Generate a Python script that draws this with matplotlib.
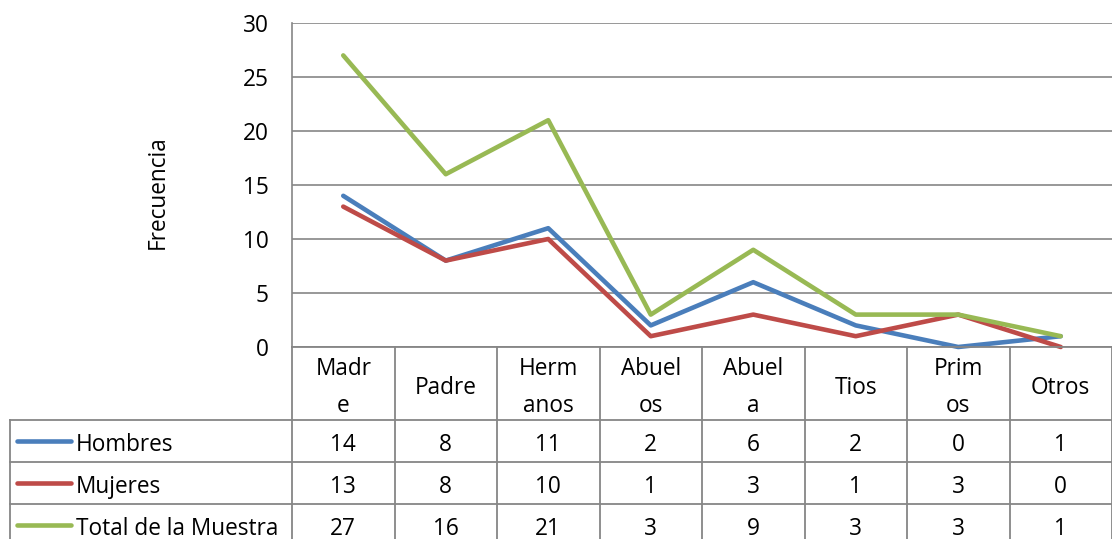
import matplotlib.pyplot as plt

categorias = ['Madre', 'Padre', 'Hermanos', 'Abuelos', 'Abuela', 'Tios', 'Primos', 'Otros']
etiquetas = ['Madr\ne', 'Padre', 'Herm\nanos', 'Abuel\nos', 'Abuel\na', 'Tios', 'Prim\nos', 'Otros']
hombres = [14, 8, 11, 2, 6, 2, 0, 1]
mujeres = [13, 8, 10, 1, 3, 1, 3, 0]
total = [27, 16, 21, 3, 9, 3, 3, 1]
series = [('Hombres', hombres, '#4A7EBB'),
          ('Mujeres', mujeres, '#BE4B48'),
          ('Total de la Muestra', total, '#98B954')]

plt.rcParams['font.family'] = ['Open Sans', 'DejaVu Sans']
W, H = 1112, 539
fig = plt.figure(figsize=(W / 100, H / 100), dpi=100)
grid_c = '#868686'
fs = 16.3

# plot area in pixels
x0, x1, ytop, ybot = 292, 1112, 23, 347
ax = fig.add_axes([x0 / W, 1 - ybot / H, (x1 - x0) / W, (ybot - ytop) / H])
n = len(categorias)
xs = range(n)
for name, vals, c in series:
    ax.plot(xs, vals, color=c, lw=3.3, solid_joinstyle='round', solid_capstyle='round', clip_on=False)
ax.set_xlim(-0.5, n - 0.5)
ax.set_ylim(0, 30)
ax.set_yticks(range(0, 31, 5))
ax.yaxis.grid(True, color=grid_c, lw=1.2)
ax.set_axisbelow(True)
ax.set_xticks([])
ax.tick_params(axis='y', length=0, labelsize=fs, pad=17)
for s in ['top', 'right', 'bottom']:
    ax.spines[s].set_visible(False)
ax.spines['left'].set_color(grid_c)
ax.spines['left'].set_linewidth(1.2)
ax.set_ylabel('Frecuencia', fontsize=fs, va='center')
ax.yaxis.set_label_coords((158 - x0) / (x1 - x0), 1 - (192 - ytop) / (ybot - ytop))

# data table in pixel coordinates
tb = fig.add_axes([0, 0, 1, 1])
tb.set_xlim(0, W)
tb.set_ylim(H, 0)
tb.axis('off')
colw = (x1 - x0) / n
row_tops = [420, 462, 504, 546]
lk = dict(color=grid_c, lw=1.3)
# header row
for i in range(n + 1):
    tb.plot([x0 + i * colw] * 2, [ybot, H], **lk)
for i, lab in enumerate(etiquetas):
    tb.text(x0 + (i + 0.5) * colw, (ybot + row_tops[0]) / 2 + 4, lab, ha='center', va='center',
            fontsize=fs, linespacing=1.75)
tb.plot([x0, x1], [ybot, ybot], **lk)
# data rows
tb.plot([10, 10], [row_tops[0], H], **lk)
for r, (name, vals, c) in enumerate(series):
    yt = row_tops[r]
    tb.plot([10, x1], [yt, yt], **lk)
    yc = (yt + row_tops[r + 1]) / 2
    tb.plot([17, 71], [yc, yc], color=c, lw=3.3, solid_capstyle='round')
    tb.text(76, yc + 4, name, ha='left', va='center', fontsize=fs)
    for i, v in enumerate(vals):
        tb.text(x0 + (i + 0.5) * colw, yc + 4, str(v), ha='center', va='center', fontsize=fs)

fig.savefig('out.png', dpi=100)
